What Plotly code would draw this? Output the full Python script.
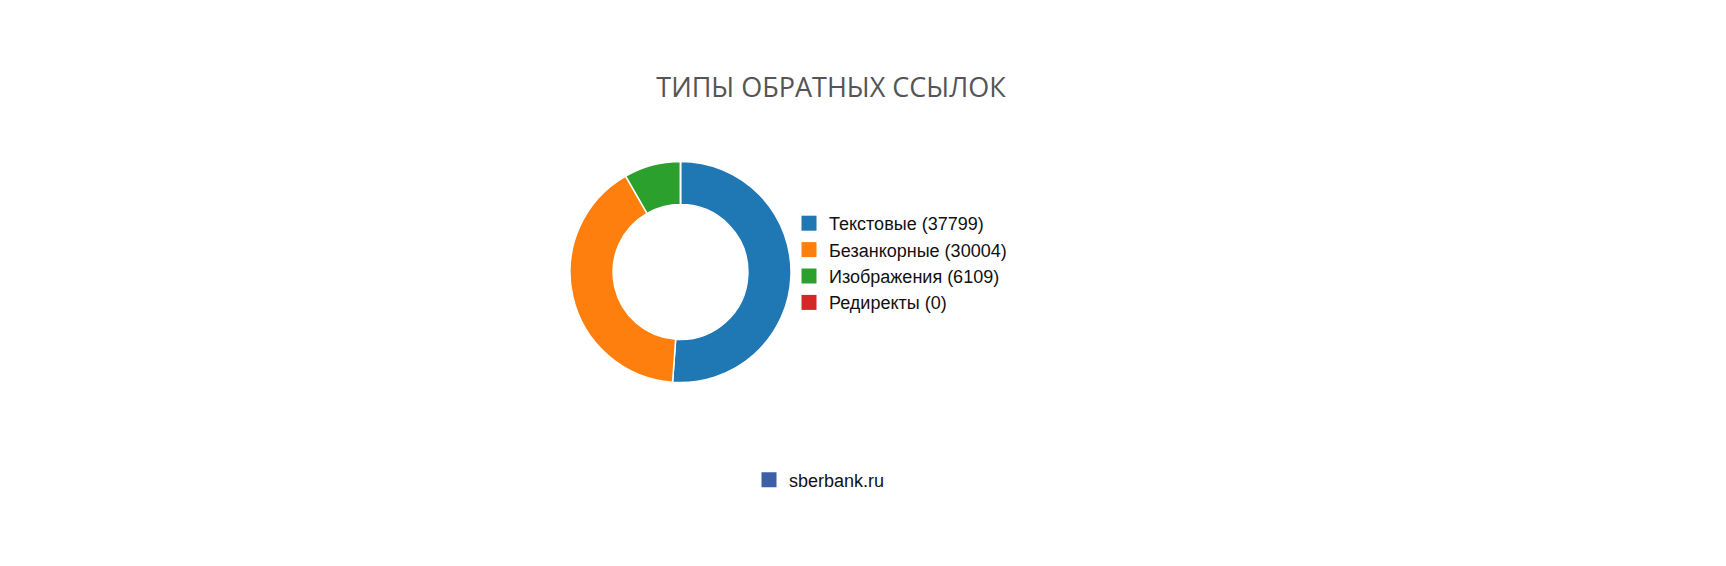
import plotly.graph_objects as go

# chart data
link_types = ['Текстовые', 'Безанкорные', 'Изображения', 'Редиректы']
link_counts = [37799, 30004, 6109, 0]
type_colors = ['#1f77b4', '#ff7f0e', '#2ca02c', '#d62728']
site_name = 'sberbank.ru'
site_color = '#3d5fa8'

W, H = 1726, 566
cx, cy, r = 672.5, 264, 110.5   # donut centre / radius in px (figure coords)

labels = [f'{t} ({c})' for t, c in zip(link_types, link_counts)]

pie = go.Pie(labels=labels, values=link_counts, hole=0.61,
             sort=False, direction='clockwise', rotation=0,
             marker=dict(colors=type_colors, line=dict(color='white', width=1.5)),
             textinfo='none', hoverinfo='label+percent', showlegend=False,
             domain=dict(x=[(cx - r) / W, (cx + r) / W],
                         y=[1 - (cy + r) / H, 1 - (cy - r) / H]))

traces = [pie]
# legend entries (square markers, bigger than the pie's own legend swatches)
for lab, col in zip(labels, type_colors):
    traces.append(go.Scatter(x=[None], y=[None], mode='markers', name=lab,
                             marker=dict(symbol='square', size=15, color=col),
                             hoverinfo='skip', legend='legend'))
traces.append(go.Scatter(x=[None], y=[None], mode='markers', name=site_name,
                         marker=dict(symbol='square', size=15, color=site_color),
                         hoverinfo='skip', legend='legend2'))

fig = go.Figure(data=traces)
fig.update_layout(
    width=W, height=H,
    margin=dict(l=0, r=0, t=0, b=0),
    paper_bgcolor='white', plot_bgcolor='white',
    title=dict(text='ТИПЫ ОБРАТНЫХ ССЫЛОК', x=823 / W, xanchor='center',
               y=1 - 80 / H, yanchor='middle',
               font=dict(family='Open Sans', size=27, color='#555555')),
    font=dict(family='Liberation Sans, Arial', size=18, color='#111111'),
    xaxis=dict(visible=False), yaxis=dict(visible=False),
    legend=dict(x=781 / W, xanchor='left', y=1 - 197 / H, yanchor='top',
                itemsizing='trace', font=dict(size=18), bgcolor='rgba(0,0,0,0)'),
    legend2=dict(x=741 / W, xanchor='left', y=1 - 472 / H, yanchor='middle',
                 itemsizing='trace', font=dict(size=18), bgcolor='rgba(0,0,0,0)'),
)

fig.write_html('out.html')
